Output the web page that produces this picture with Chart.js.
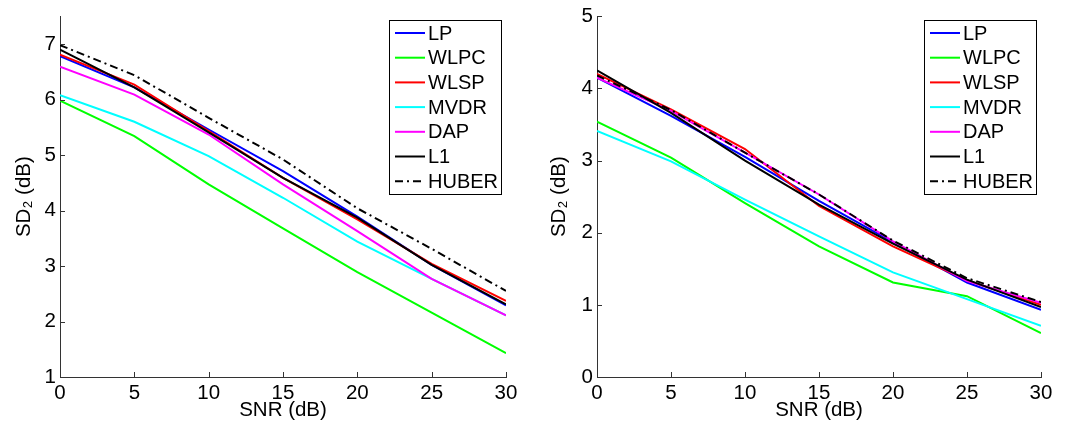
<!DOCTYPE html>
<html>
<head>
<meta charset="utf-8">
<script src="https://cdn.jsdelivr.net/npm/chart.js@4.4.0/dist/chart.umd.min.js"></script>
<style>
html, body { margin: 0; padding: 0; background: #fff; }
.wrap { display: flex; width: 1070px; height: 423px; }
canvas { display: block; }
</style>
</head>
<body>
<div class="wrap">
  <canvas id="left" width="535" height="423"></canvas>
  <canvas id="right" width="535" height="423"></canvas>
</div>
<script>
// x values (SNR in dB)
var snr = [0, 5, 10, 15, 20, 25, 30];
var names = ['LP', 'WLPC', 'WLSP', 'MVDR', 'DAP', 'L1', 'HUBER'];
var xTicks = [0, 5, 10, 15, 20, 25, 30];
var yTicksLeft = [1, 2, 3, 4, 5, 6, 7];
var yTicksRight = [0, 1, 2, 3, 4, 5];

// left panel
var lpL    = [6.78, 6.22, 5.46, 4.71, 3.89, 3.02, 2.29];
var wlpcL  = [5.98, 5.34, 4.47, 3.68, 2.89, 2.16, 1.43];
var wlspL  = [6.81, 6.27, 5.43, 4.59, 3.84, 3.04, 2.37];
var mvdrL  = [6.08, 5.60, 4.98, 4.23, 3.44, 2.77, 2.11];
var dapL   = [6.59, 6.09, 5.37, 4.47, 3.63, 2.77, 2.11];
var l1L    = [6.90, 6.22, 5.41, 4.59, 3.87, 3.02, 2.31];
var huberL = [6.98, 6.44, 5.67, 4.92, 4.04, 3.31, 2.55];

// right panel
var lpR    = [4.15, 3.62, 3.05, 2.44, 1.87, 1.31, 0.93];
var wlpcR  = [3.54, 3.04, 2.41, 1.81, 1.31, 1.12, 0.61];
var wlspR  = [4.20, 3.71, 3.16, 2.37, 1.81, 1.34, 1.00];
var mvdrR  = [3.41, 2.99, 2.46, 1.95, 1.45, 1.08, 0.71];
var dapR   = [4.15, 3.69, 3.11, 2.53, 1.88, 1.33, 1.03];
var l1R    = [4.25, 3.66, 3.00, 2.39, 1.85, 1.35, 0.97];
var huberR = [4.18, 3.70, 3.11, 2.53, 1.89, 1.37, 1.04];

var colors = ['#0000ff', '#00ff00', '#ff0000', '#00ffff', '#ff00ff', '#000000', '#000000'];
var dashes = [[], [], [], [], [], [], [8, 4, 2, 4]];
var FONT = "'Liberation Sans', Arial, sans-serif";

function pts(vals) {
    return vals.map(function(v, i) { return { x: snr[i], y: v }; });
}

function makeDatasets(series) {
    return series.map(function(s, i) {
        return {
            label: names[i],
            data: pts(s),
            borderColor: colors[i],
            backgroundColor: colors[i],
            borderWidth: 2,
            borderDash: dashes[i],
            pointRadius: 0,
            tension: 0,
            order: series.length - i
        };
    });
}

// ticks pointing inwards, like the original figure
var inwardTicks = {
    id: 'inwardTicks',
    afterDatasetsDraw: function(chart) {
        var ctx = chart.ctx, xs = chart.scales.x, ys = chart.scales.y;
        ctx.save();
        ctx.strokeStyle = '#333';
        ctx.lineWidth = 1;
        ctx.beginPath();
        xs.ticks.forEach(function(t) {
            var px = Math.round(xs.getPixelForValue(t.value)) + 0.5;
            ctx.moveTo(px, ys.bottom);
            ctx.lineTo(px, ys.bottom - 5);
        });
        ys.ticks.forEach(function(t) {
            var py = Math.round(ys.getPixelForValue(t.value)) + 0.5;
            ctx.moveTo(xs.left, py);
            ctx.lineTo(xs.left + 5, py);
        });
        ctx.stroke();
        ctx.restore();
    }
};

// boxed legend in the top right corner
var boxLegend = {
    id: 'boxLegend',
    afterDraw: function(chart) {
        var ctx = chart.ctx;
        var x0 = 389, y0 = 20, w = 112, h = 174;
        ctx.save();
        ctx.fillStyle = '#fff';
        ctx.fillRect(x0, y0, w, h);
        ctx.strokeStyle = '#000';
        ctx.lineWidth = 1;
        ctx.strokeRect(x0 + 0.5, y0 + 0.5, w, h);
        ctx.font = '20px ' + FONT;
        ctx.textBaseline = 'middle';
        chart.data.datasets.forEach(function(ds, i) {
            var yy = y0 + 13 + i * 24.7;
            ctx.strokeStyle = ds.borderColor;
            ctx.lineWidth = 2;
            ctx.setLineDash(ds.borderDash);
            ctx.beginPath();
            ctx.moveTo(x0 + 6, yy);
            ctx.lineTo(x0 + 36, yy);
            ctx.stroke();
            ctx.setLineDash([]);
            ctx.fillStyle = '#000';
            ctx.fillText(ds.label, x0 + 39, yy + 1);
        });
        ctx.restore();
    }
};

function makeChart(id, series, yMin, yMax, yTicks, yWidth) {
    return new Chart(document.getElementById(id), {
        type: 'line',
        data: { datasets: makeDatasets(series) },
        options: {
            responsive: false,
            animation: false,
            layout: { padding: { left: 0, right: 29, top: 15, bottom: 0 } },
            plugins: { legend: { display: false }, tooltip: { enabled: false } },
            scales: {
                x: {
                    type: 'linear',
                    min: 0, max: 30,
                    afterBuildTicks: function(s) { s.ticks = xTicks.map(function(v) { return { value: v }; }); },
                    afterFit: function(s) { s.height = 46; },
                    grid: { display: false, drawTicks: false },
                    border: { display: true, color: '#333', width: 1 },
                    ticks: { color: '#000', font: { family: FONT, size: 20.5 }, padding: 4, maxRotation: 0, autoSkip: false },
                    title: { display: true, text: 'SNR (dB)', color: '#000', font: { family: FONT, size: 20.5 }, padding: { top: 0, bottom: 0 } }
                },
                y: {
                    type: 'linear',
                    min: yMin, max: yMax,
                    afterBuildTicks: function(s) { s.ticks = yTicks.map(function(v) { return { value: v }; }); },
                    afterFit: function(s) { s.width = yWidth; },
                    grid: { display: false, drawTicks: false },
                    border: { display: true, color: '#333', width: 1 },
                    ticks: { color: '#000', font: { family: FONT, size: 20.5 }, padding: 4, autoSkip: false },
                    title: { display: true, text: 'SD₂ (dB)', color: '#000', font: { family: FONT, size: 20.5 }, padding: { top: 12, bottom: 0 } }
                }
            }
        },
        plugins: [inwardTicks, boxLegend]
    });
}

makeChart('left', [lpL, wlpcL, wlspL, mvdrL, dapL, l1L, huberL], 1, 7.5, yTicksLeft, 60);
makeChart('right', [lpR, wlpcR, wlspR, mvdrR, dapR, l1R, huberR], 0, 5, yTicksRight, 62);
</script>
</body>
</html>
